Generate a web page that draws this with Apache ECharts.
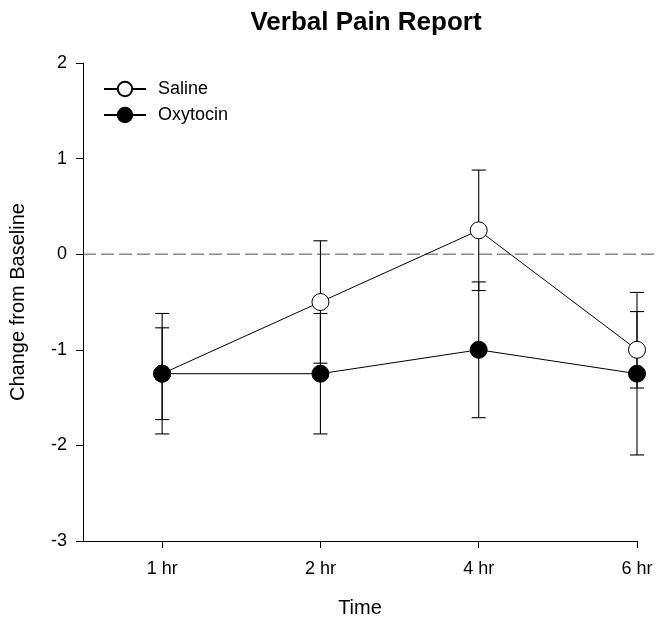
<!DOCTYPE html>
<html>
<head>
<meta charset="utf-8">
<script src="https://cdn.jsdelivr.net/npm/echarts@6/dist/echarts.min.js"></script>
<style>
html,body{margin:0;padding:0;background:#fff;}
#chart{width:659px;height:623px;}
</style>
</head>
<body>
<div id="chart"></div>
<script>
var categories = ['1 hr', '2 hr', '4 hr', '6 hr'];
var salineMean = [-1.25, -0.5, 0.25, -1.0];
var salineErr = [0.48, 0.64, 0.63, 0.40];
var oxytocinMean = [-1.25, -1.25, -1.0, -1.25];
var oxytocinErr = [0.63, 0.63, 0.71, 0.85];
var yTicks = [-3, -2, -1, 0, 1, 2];
var referenceLine = [0];

var FONT = 'Liberation Sans, Arial, sans-serif';

function pts(means) {
  return means.map(function (v, i) { return [i + 1, v]; });
}
function errData(means, errs) {
  return means.map(function (v, i) { return [i + 1, v - errs[i], v + errs[i]]; });
}
function errRender(params, api) {
  var x = api.value(0);
  var lo = api.coord([x, api.value(1)]);
  var hi = api.coord([x, api.value(2)]);
  var hw = 7;
  var style = { stroke: '#000', lineWidth: 1.1 };
  return {
    type: 'group',
    children: [
      { type: 'line', shape: { x1: lo[0], y1: lo[1], x2: hi[0], y2: hi[1] }, style: style },
      { type: 'line', shape: { x1: lo[0] - hw, y1: lo[1], x2: lo[0] + hw, y2: lo[1] }, style: style },
      { type: 'line', shape: { x1: hi[0] - hw, y1: hi[1], x2: hi[0] + hw, y2: hi[1] }, style: style }
    ]
  };
}
function refRender(params, api) {
  var p = api.coord([0.5, api.value(0)]);
  return {
    type: 'line',
    shape: { x1: p[0], y1: p[1], x2: api.getWidth(), y2: p[1] },
    style: { stroke: '#8a8a8a', lineWidth: 1.5, lineDash: [13, 5] }
  };
}

var chart = echarts.init(document.getElementById('chart'), null, { renderer: 'canvas' });
chart.setOption({
  backgroundColor: '#fff',
  animation: false,
  title: {
    text: 'Verbal Pain Report',
    left: 361, top: 5, textAlign: 'center',
    textStyle: { fontFamily: FONT, fontWeight: 'bold', fontSize: 26, color: '#000' }
  },
  legend: {
    orient: 'vertical', left: 98, top: 75,
    itemWidth: 42, itemHeight: 18, itemGap: 8,
    textStyle: { fontFamily: FONT, fontSize: 18, color: '#000', padding: [0, 0, 0, 7] },
    data: ['Saline', 'Oxytocin']
  },
  grid: { left: 83, right: 22, top: 63, bottom: 80, containLabel: false },
  xAxis: {
    type: 'value', min: 0.5, max: 4,
    name: 'Time', nameLocation: 'middle', nameGap: 57,
    nameTextStyle: { fontFamily: FONT, fontSize: 20, color: '#000' },
    axisLine: { show: true, onZero: false, lineStyle: { color: '#000', width: 1 } },
    axisTick: { show: true, length: 7, customValues: [1, 2, 3, 4], lineStyle: { color: '#000' } },
    axisLabel: {
      customValues: [1, 2, 3, 4], margin: 19,
      fontFamily: FONT, fontSize: 18, color: '#000',
      formatter: function (v) { return categories[Math.round(v) - 1] || ''; }
    },
    splitLine: { show: false }
  },
  yAxis: {
    type: 'value', min: -3, max: 2, interval: 1,
    name: 'Change from Baseline', nameLocation: 'middle', nameGap: 55,
    nameTextStyle: { fontFamily: FONT, fontSize: 20, color: '#000' },
    axisLine: { show: true, onZero: false, lineStyle: { color: '#000', width: 1 } },
    axisTick: { show: true, length: 7, lineStyle: { color: '#000' } },
    axisLabel: { margin: 16, fontFamily: FONT, fontSize: 18, color: '#000',
      formatter: function (v) { return yTicks.indexOf(v) >= 0 ? String(v) : ''; } },
    splitLine: { show: false }
  },
  series: [
    {
      name: 'Reference', type: 'custom', renderItem: refRender, clip: false,
      data: referenceLine.map(function (v) { return [v]; }), z: 0, silent: true,
      encode: { y: 0 }
    },
    {
      name: 'SalineErr', type: 'custom', renderItem: errRender,
      data: errData(salineMean, salineErr), z: 1, silent: true
    },
    {
      name: 'OxytocinErr', type: 'custom', renderItem: errRender,
      data: errData(oxytocinMean, oxytocinErr), z: 1, silent: true
    },
    {
      name: 'Saline', type: 'line', data: pts(salineMean), z: 3,
      symbol: 'circle', symbolSize: 17,
      lineStyle: { color: '#000', width: 1 },
      itemStyle: { color: '#fff', borderColor: '#000', borderWidth: 1 }
    },
    {
      name: 'Oxytocin', type: 'line', data: pts(oxytocinMean), z: 4,
      symbol: 'circle', symbolSize: 17,
      lineStyle: { color: '#000', width: 1 },
      itemStyle: { color: '#000', borderColor: '#000', borderWidth: 1 }
    }
  ]
});
</script>
</body>
</html>
